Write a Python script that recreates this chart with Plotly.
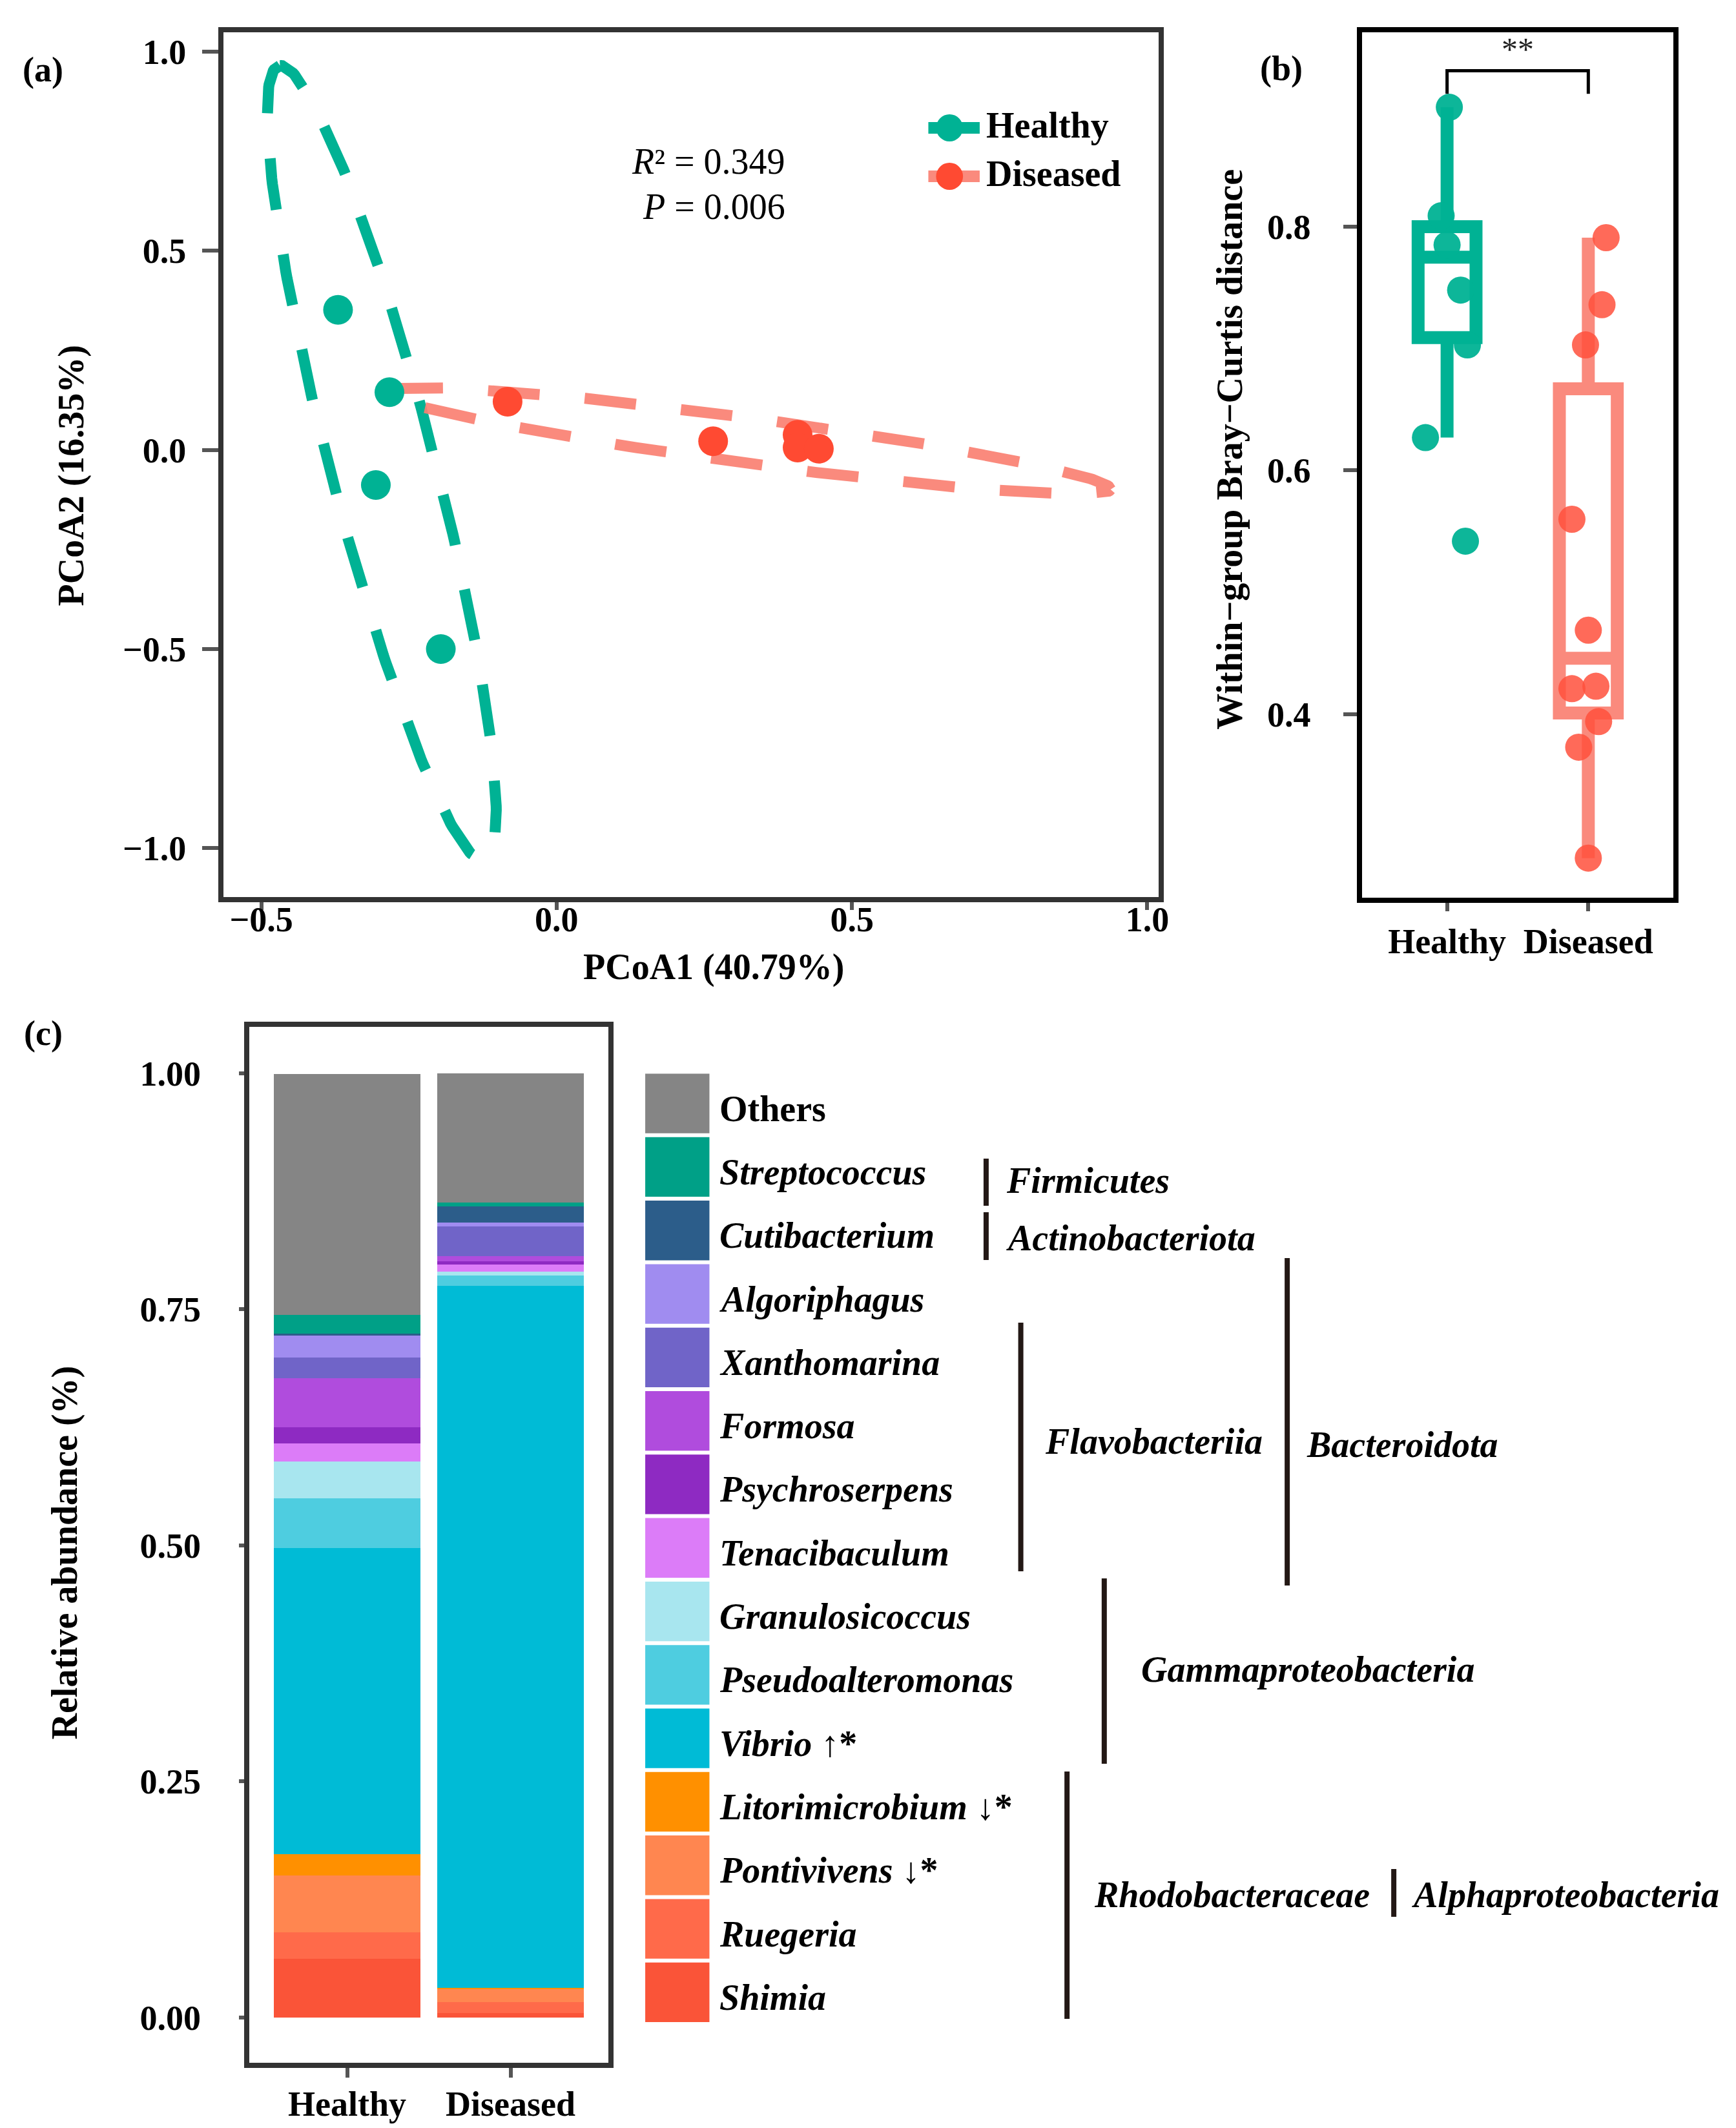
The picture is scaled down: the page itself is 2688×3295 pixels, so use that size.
import numpy as np
import plotly.graph_objects as go

W, H = 2688, 3295
FONT = "Liberation Serif"

# ---------------- data: panel (a) PCoA ----------------
pcoa_healthy_x = [-0.370, -0.283, -0.306, -0.196]
pcoa_healthy_y = [0.352, 0.145, -0.088, -0.500]
pcoa_diseased_x = [-0.083, 0.265, 0.408, 0.408, 0.444]
pcoa_diseased_y = [0.121, 0.022, 0.038, 0.006, 0.003]
# confidence ellipses: centre, semi-axes, rotation (deg)
ellipse_group = ["Healthy", "Diseased"]
ellipse_cx = [-0.296, 0.326]
ellipse_cy = [-0.033, 0.023]
ellipse_a = [1.013, 0.624]
ellipse_b = [0.090, 0.057]
ellipse_angle = [99.8, -11.3]
pcoa_x_ticks = [-0.5, 0.0, 0.5, 1.0]
pcoa_x_ticktext = ["\u22120.5", "0.0", "0.5", "1.0"]
pcoa_y_ticks = [-1.0, -0.5, 0.0, 0.5, 1.0]
pcoa_y_ticktext = ["\u22121.0", "\u22120.5", "0.0", "0.5", "1.0"]
adonis_r2 = "0.349"
adonis_p = "0.006"

# ---------------- data: panel (b) within-group distance ----------------
box_groups = ["Healthy", "Diseased"]
box_q1 = [0.709, 0.401]
box_median = [0.775, 0.446]
box_q3 = [0.800, 0.667]
box_low = [0.627, 0.282]
box_high = [0.898, 0.791]
bc_healthy = [0.898, 0.809, 0.785, 0.748, 0.703, 0.627, 0.542]
bc_healthy_jitter = [0.016, -0.042, 0.000, 0.096, 0.144, -0.153, 0.130]
bc_diseased = [0.791, 0.736, 0.703, 0.560, 0.469, 0.421, 0.423, 0.394, 0.373, 0.282]
bc_diseased_jitter = [0.126, 0.097, -0.020, -0.116, 0.000, -0.116, 0.054, 0.073, -0.068, 0.000]
bc_y_ticks = [0.4, 0.6, 0.8]
signif_label = "**"
signif_y = 0.928

# ---------------- data: panel (c) relative abundance ----------------
genera = ["Others", "Streptococcus", "Cutibacterium", "Algoriphagus", "Xanthomarina",
          "Formosa", "Psychroserpens", "Tenacibaculum", "Granulosicoccus",
          "Pseudoalteromonas", "Vibrio", "Litorimicrobium", "Pontivivens",
          "Ruegeria", "Shimia"]
genus_suffix = ["", "", "", "", "", "", "", "", "", "", " \u2191*", " \u2193*", " \u2193*", "", ""]
genus_colors = ["#858585", "#00A087", "#2C5D8A", "#A08CF0", "#7064C8",
                "#B04CDD", "#8E2AC2", "#DC7CF8", "#A8E6EF",
                "#4ECDE0", "#00BBD6", "#FF9000", "#FF8650",
                "#FF6A4A", "#FA5438"]
abund_healthy = [0.255, 0.020, 0.002, 0.023, 0.022, 0.052, 0.017, 0.019, 0.039,
                 0.053, 0.324, 0.023, 0.060, 0.028, 0.062]
abund_diseased = [0.137, 0.004, 0.017, 0.004, 0.032, 0.005, 0.004, 0.007, 0.004,
                  0.011, 0.744, 0.001, 0.014, 0.011, 0.005]
bar_groups = ["Healthy", "Diseased"]
abund_y_ticks = [0.0, 0.25, 0.5, 0.75, 1.0]
abund_y_ticktext = ["0.00", "0.25", "0.50", "0.75", "1.00"]
taxa_labels = ["Firmicutes", "Actinobacteriota", "Flavobacteriia", "Bacteroidota",
               "Gammaproteobacteria", "Rhodobacteraceae", "Alphaproteobacteria"]

# ---------------- colours ----------------
TEAL = "#00B294"
RED = "#FF4A32"
SALMON = "rgba(250,128,114,0.92)"


def px(x):
    return x / W


def py(y):
    return 1 - y / H


fig = go.Figure()

# ---------- panel (a) ----------
ell_colors = [TEAL, SALMON]
t = np.linspace(0, 2 * np.pi, 300)
for i, g in enumerate(ellipse_group):
    th = np.deg2rad(ellipse_angle[i])
    ex = ellipse_cx[i] + ellipse_a[i] * np.cos(t) * np.cos(th) - ellipse_b[i] * np.sin(t) * np.sin(th)
    ey = ellipse_cy[i] + ellipse_a[i] * np.cos(t) * np.sin(th) + ellipse_b[i] * np.sin(t) * np.cos(th)
    fig.add_trace(go.Scatter(x=ex, y=ey, mode="lines", xaxis="x", yaxis="y",
                             line=dict(color=ell_colors[i], width=17, dash="80px,70px"),
                             showlegend=False, hoverinfo="skip"))
fig.add_trace(go.Scatter(x=pcoa_healthy_x, y=pcoa_healthy_y, mode="markers", xaxis="x", yaxis="y",
                         marker=dict(color=TEAL, size=46), showlegend=False))
fig.add_trace(go.Scatter(x=pcoa_diseased_x, y=pcoa_diseased_y, mode="markers", xaxis="x", yaxis="y",
                         marker=dict(color=RED, size=46), showlegend=False))

# ---------- panel (b) ----------
box_line = [TEAL, SALMON]
for i, g in enumerate(box_groups):
    fig.add_trace(go.Box(x=[i], q1=[box_q1[i]], median=[box_median[i]], q3=[box_q3[i]],
                         lowerfence=[box_low[i]], upperfence=[box_high[i]],
                         width=0.41, whiskerwidth=0, boxpoints=False,
                         line=dict(color=box_line[i], width=20),
                         fillcolor="rgba(255,255,255,0)",
                         xaxis="x2", yaxis="y2", showlegend=False, hoverinfo="skip"))
fig.add_trace(go.Scatter(x=[0 + j for j in bc_healthy_jitter], y=bc_healthy, mode="markers",
                         xaxis="x2", yaxis="y2", marker=dict(color=TEAL, size=42, opacity=0.95),
                         showlegend=False))
fig.add_trace(go.Scatter(x=[1 + j for j in bc_diseased_jitter], y=bc_diseased, mode="markers",
                         xaxis="x2", yaxis="y2", marker=dict(color="rgba(255,80,60,0.85)", size=42),
                         showlegend=False))

# ---------- panel (c) ----------
for k in range(len(genera) - 1, -1, -1):
    fig.add_trace(go.Bar(x=[0, 1], y=[abund_healthy[k], abund_diseased[k]], width=0.9,
                         marker=dict(color=genus_colors[k], line=dict(width=0)),
                         xaxis="x3", yaxis="y3", showlegend=False, name=genera[k]))

tickfont = dict(family=FONT, size=54, color="black", weight="bold")
common = dict(showgrid=False, zeroline=False, showline=True, mirror=True,
              ticks="outside", tickcolor="#555555", tickwidth=6, tickfont=tickfont)

fig.update_layout(
    width=W, height=H, autosize=False,
    margin=dict(l=0, r=0, t=0, b=0),
    paper_bgcolor="white", plot_bgcolor="white",
    barmode="stack", boxmode="overlay",
    showlegend=False,
    xaxis=dict(domain=[px(340), px(1797)], range=[-0.564, 1.0195], tickvals=pcoa_x_ticks,
               ticktext=pcoa_x_ticktext, ticklen=12, linecolor="#333333", linewidth=8,
               ticklabelstandoff=-32, anchor="y", **common),
    yaxis=dict(domain=[py(1381), py(42)], range=[-1.123, 1.049], tickvals=pcoa_y_ticks,
               ticktext=pcoa_y_ticktext, ticklen=25, linecolor="#333333", linewidth=8,
               ticklabelstandoff=14, anchor="x", **common),
    xaxis2=dict(domain=[px(2114), px(2598)], range=[-0.6, 1.6], tickvals=[0, 1],
                ticktext=box_groups, ticklen=13, linecolor="black", linewidth=8,
                ticklabelstandoff=0, anchor="y2", **common),
    yaxis2=dict(domain=[py(1382), py(42)], range=[0.2495, 0.9595], tickvals=bc_y_ticks,
                ticktext=["0.4", "0.6", "0.8"], ticklen=21, linecolor="black", linewidth=8,
                ticklabelstandoff=40, anchor="x2", **common),
    xaxis3=dict(domain=[px(380), px(940)], range=[-0.6, 1.6], tickvals=[0, 1],
                ticktext=bar_groups, ticklen=15, linecolor="#333333", linewidth=8,
                ticklabelstandoff=-6, anchor="y3", **common),
    yaxis3=dict(domain=[py(3186), py(1582)], range=[-0.048, 1.049], tickvals=abund_y_ticks,
                ticktext=abund_y_ticktext, ticklen=8, linecolor="#333333", linewidth=8,
                ticklabelstandoff=48, anchor="x3", **common),
)

ann = []
shapes = []
bold = dict(family=FONT, size=56, color="black", weight="bold")

# panel labels
for lab, x, y in [("(a)", 59, 100), ("(b)", 1988, 98), ("(c)", 59, 1592)]:
    ann.append(dict(text=lab, x=px(x), y=py(y), xref="paper", yref="paper", showarrow=False,
                    xanchor="center", yanchor="middle",
                    font=dict(family=FONT, size=54, color="black", weight="bold")))

# axis titles
ann.append(dict(text="PCoA1 (40.79%)", x=px(1104), y=py(1490), xref="paper", yref="paper",
                showarrow=False, xanchor="center", yanchor="middle", font=bold))
ann.append(dict(text="PCoA2 (16.35%)", x=px(103), y=py(728), xref="paper", yref="paper",
                showarrow=False, xanchor="center", yanchor="middle", textangle=-90, font=bold))
ann.append(dict(text="Within\u2212group Bray\u2212Curtis distance", x=px(1907), y=py(688),
                xref="paper", yref="paper", showarrow=False, xanchor="center", yanchor="middle",
                textangle=-90, font=bold))
ann.append(dict(text="Relative abundance (%)", x=px(93), y=py(2396), xref="paper", yref="paper",
                showarrow=False, xanchor="center", yanchor="middle", textangle=-90, font=bold))

# statistics text in panel (a)
stat_font = dict(family=FONT, size=56, color="black")
ann.append(dict(text="<i>R</i>\u00b2 = " + adonis_r2, x=px(1217), y=py(242), xref="paper", yref="paper",
                showarrow=False, xanchor="right", yanchor="middle", font=stat_font))
ann.append(dict(text="<i>P</i> = " + adonis_p, x=px(1217), y=py(312), xref="paper", yref="paper",
                showarrow=False, xanchor="right", yanchor="middle", font=stat_font))

# legend of panel (a)
leg_items = [("Healthy", TEAL, TEAL, 190), ("Diseased", SALMON, RED, 265)]
for name, lc, mc, yc in leg_items:
    shapes.append(dict(type="line", xref="paper", yref="paper", x0=px(1438), x1=px(1518),
                       y0=py(yc), y1=py(yc), line=dict(color=lc, width=18)))
    shapes.append(dict(type="circle", xref="paper", yref="paper", x0=px(1450), x1=px(1492),
                       y0=py(yc + 21), y1=py(yc - 21), fillcolor=mc, line=dict(width=0)))
    ann.append(dict(text=name, x=px(1526), y=py(yc - 4), xref="paper", yref="paper", showarrow=False,
                    xanchor="left", yanchor="middle", font=bold))

# significance bracket panel (b)
shapes.append(dict(type="path", xref="x2", yref="y2",
                   path=f"M 0,{signif_y - 0.019} L 0,{signif_y} L 1,{signif_y} L 1,{signif_y - 0.019}",
                   line=dict(color="black", width=5)))
ann.append(dict(text=signif_label, x=0.5, y=signif_y + 0.002, xref="x2", yref="y2", showarrow=False,
                xanchor="center", yanchor="bottom", font=dict(family=FONT, size=50, color="#222")))

# custom legend panel (c)
row_top0, row_h = 1651.5, 98.3
for i, g in enumerate(genera):
    top = row_top0 + i * row_h
    shapes.append(dict(type="rect", xref="paper", yref="paper", x0=px(997), x1=px(1097),
                       y0=py(top + row_h - 3), y1=py(top + 3), fillcolor=genus_colors[i],
                       line=dict(width=0)))
    label = g if g == "Others" else f"<i>{g}</i>"
    ann.append(dict(text=label + genus_suffix[i], x=px(1111), y=py(top + row_h / 2 + 8),
                    xref="paper", yref="paper", showarrow=False, xanchor="left", yanchor="middle",
                    font=bold))

# taxonomy brackets
taxa_line_x = [1528, 1528, 1582, 1997, 1712, 1654, 2163]
taxa_line_y0 = [1786, 1869, 2040, 1940, 2436, 2735, 2886]
taxa_line_y1 = [1859, 1943, 2425, 2447, 2723, 3118, 2960]
taxa_text_x = [1557, 1557, 1618, 2025, 1768, 1694, 2189]
taxa_text_y = [1820, 1909, 2224, 2229, 2577, 2926, 2926]
for i, lab in enumerate(taxa_labels):
    shapes.append(dict(type="line", xref="paper", yref="paper", x0=px(taxa_line_x[i]),
                       x1=px(taxa_line_x[i]), y0=py(taxa_line_y0[i]), y1=py(taxa_line_y1[i]),
                       line=dict(color="#231815", width=8)))
    ann.append(dict(text=f"<i>{lab}</i>", x=px(taxa_text_x[i]), y=py(taxa_text_y[i]),
                    xref="paper", yref="paper", showarrow=False, xanchor="left", yanchor="middle",
                    font=bold))

fig.update_layout(annotations=ann, shapes=shapes)
fig.write_html("out.html")
